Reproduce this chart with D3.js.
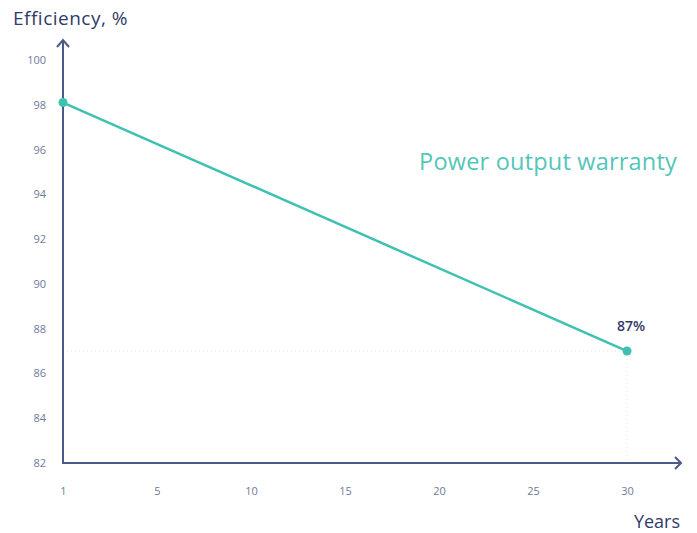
<!DOCTYPE html>
<html><head><meta charset="utf-8">
<script src="https://cdn.jsdelivr.net/npm/d3@7"></script>
<style>body{margin:0;background:#fff}svg{display:block}</style>
</head><body>
<script>
const xTickLabels = ["1","5","10","15","20","25","30"];
const yTickValues = [82,84,86,88,90,92,94,96,98,100];
const years = ["1","30"];
const efficiency = [98.1, 87];
const endLabel = "87%";

const W = 697, H = 533;
const svg = d3.select("body").append("svg").attr("width", W).attr("height", H);
const x = d3.scalePoint().domain(xTickLabels).range([63, 627]);
const y = d3.scaleLinear().domain([82, 100]).range([463, 60]);
const axisColor = "#4b5b85", tickColor = "#6e7a98", teal = "#3fc1b2", navy = "#2f3b68";
const font = "'Open Sans', sans-serif";

// y tick labels
const yAxis = d3.axisLeft(y).tickValues(yTickValues).tickSize(0).tickPadding(17);
const gy = svg.append("g").attr("transform", "translate(63,0)").call(yAxis);
gy.select(".domain").remove();
gy.selectAll("text").attr("fill", tickColor).style("font-family", font).style("font-size", "11px");

const xAxis = d3.axisBottom(x).tickSize(0).tickPadding(24);
const gx = svg.append("g").attr("transform", "translate(0,463)").call(xAxis);
gx.select(".domain").remove();
gx.selectAll("text").attr("fill", tickColor).style("font-family", font).style("font-size", "11px");

// guide lines
const px = x(years[1]), py = y(efficiency[1]);
svg.append("line").attr("x1", 63).attr("x2", px).attr("y1", py).attr("y2", py)
  .attr("stroke", "#dfe3ea").attr("stroke-dasharray", "1,3");
svg.append("line").attr("x1", px).attr("x2", px).attr("y1", py).attr("y2", 463)
  .attr("stroke", "#dfe3ea").attr("stroke-dasharray", "1,3");

// axes with arrows
svg.append("line").attr("x1", 63).attr("x2", 63).attr("y1", 463).attr("y2", 40)
  .attr("stroke", axisColor).attr("stroke-width", 2);
svg.append("path").attr("d", "M57,47 L63,40 L69,47").attr("fill", "none")
  .attr("stroke", axisColor).attr("stroke-width", 2);
svg.append("line").attr("x1", 62).attr("x2", 681).attr("y1", 463).attr("y2", 463)
  .attr("stroke", axisColor).attr("stroke-width", 2);
svg.append("path").attr("d", "M675,457 L681,463 L675,469").attr("fill", "none")
  .attr("stroke", axisColor).attr("stroke-width", 2);

// line
const pts = years.map((d, i) => [x(d), y(efficiency[i])]);
svg.append("path").attr("d", d3.line()(pts)).attr("stroke", teal).attr("stroke-width", 2.5).attr("fill", "none");
svg.selectAll("circle.pt").data(pts).enter().append("circle").attr("class", "pt")
  .attr("cx", d => d[0]).attr("cy", d => d[1]).attr("r", 4.5).attr("fill", teal);

// texts
svg.append("text").attr("x", px + 4).attr("y", py - 20).attr("text-anchor", "middle")
  .attr("fill", navy).style("font-family", font).style("font-size", "14px").style("font-weight", 600).text(endLabel);
svg.append("text").attr("x", 13).attr("y", 25).attr("fill", navy)
  .style("font-family", font).style("font-size", "19px").style("letter-spacing", "0.5px").text("Efficiency, %");
svg.append("text").attr("x", 680).attr("y", 528).attr("text-anchor", "end").attr("fill", navy)
  .style("font-family", font).style("font-size", "18px").text("Years");
svg.append("text").attr("x", 677).attr("y", 170).attr("text-anchor", "end").attr("fill", "#54c6b8")
  .style("font-family", font).style("font-size", "23.5px").style("letter-spacing", "0.2px").text("Power output warranty");
</script>
</body></html>
